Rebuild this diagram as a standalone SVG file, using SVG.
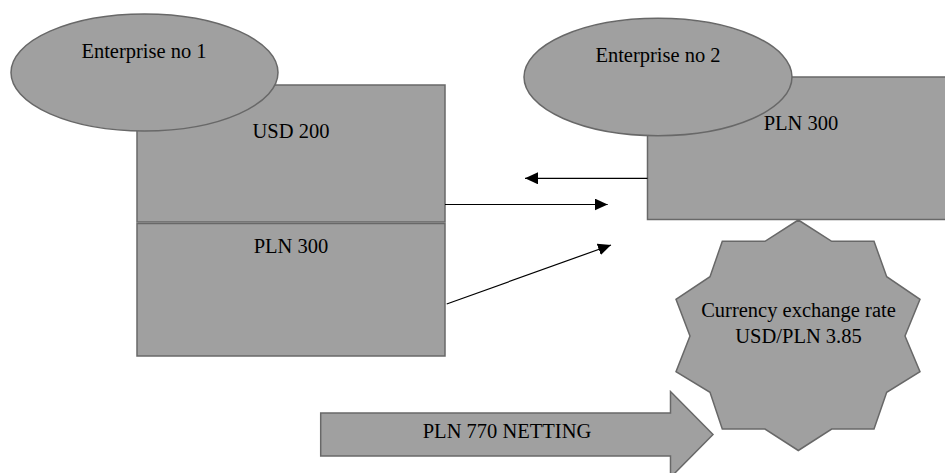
<svg xmlns="http://www.w3.org/2000/svg" width="945" height="473" viewBox="0 0 945 473">
  <defs>
    <style>
      .shape { fill: #a0a0a0; stroke: #686868; stroke-width: 1.5; }
      .lbl { font-family: 'Liberation Serif', 'DejaVu Serif', serif; font-size: 20.5px; fill: #000; text-anchor: middle; }
      .conn { stroke: #000; stroke-width: 1.2; fill: none; }
    </style>
    <marker id="ah" viewBox="0 0 13 12" refX="13" refY="6" markerWidth="13" markerHeight="12" markerUnits="userSpaceOnUse" orient="auto">
      <path d="M0,0 L13,6 L0,12 Z" fill="#000"/>
    </marker>
  </defs>
  <rect width="945" height="473" fill="#ffffff"/>

  <g id="ent1-usd">
    <rect class="shape" x="137" y="85" width="308" height="137"/>
    <text class="lbl" x="291" y="137.5" font-family="Liberation Serif, serif">USD 200</text>
  </g>
  <g id="ent1-pln">
    <rect class="shape" x="137" y="223.5" width="308" height="132.5"/>
    <text class="lbl" x="291" y="252.5" font-family="Liberation Serif, serif">PLN 300</text>
  </g>
  <g id="ent1">
    <ellipse class="shape" cx="144.5" cy="72.5" rx="133.5" ry="58.5"/>
    <text class="lbl" x="144" y="57.5" font-family="Liberation Serif, serif">Enterprise no 1</text>
  </g>

  <g id="ent2-pln">
    <rect class="shape" x="647.5" y="77" width="308" height="142.5"/>
    <text class="lbl" x="801" y="129.5" font-family="Liberation Serif, serif">PLN 300</text>
  </g>
  <g id="ent2">
    <ellipse class="shape" cx="658" cy="77" rx="134" ry="58.7"/>
    <text class="lbl" x="658" y="62.3" font-family="Liberation Serif, serif">Enterprise no 2</text>
  </g>

  <g id="netting">
    <path class="shape" d="M320.7,413 L670.5,413 L670.5,391.5 L713,434.5 L670.5,477.5 L670.5,456 L320.7,456 Z"/>
    <text class="lbl" x="507" y="438" font-family="Liberation Serif, serif">PLN 770 NETTING</text>
  </g>

  <g id="rate">
    <path class="shape" d="M798.3,220 L831.7,241.3 L874,241.3 L886.7,276.7 L920,299.3 L905,336 L920,371.7 L886.7,392.3 L874,429 L831.7,429 L798.3,450.5 L765,429 L722.3,429 L710,392.3 L676,371.7 L690,336 L676,299.3 L710,276.7 L722.3,241.3 L765,241.3 Z"/>
    <text class="lbl" x="798.5" y="316.7" font-family="Liberation Serif, serif">Currency exchange rate</text>
    <text class="lbl" x="798.5" y="343" font-family="Liberation Serif, serif">USD/PLN 3.85</text>
  </g>

  <g id="connectors">
    <line class="conn" x1="647.5" y1="178.3" x2="525" y2="178.3" marker-end="url(#ah)"/>
    <line class="conn" x1="445" y1="204.5" x2="607.7" y2="204.5" marker-end="url(#ah)"/>
    <line class="conn" x1="446.7" y1="304" x2="611" y2="245" marker-end="url(#ah)"/>
  </g>
</svg>
